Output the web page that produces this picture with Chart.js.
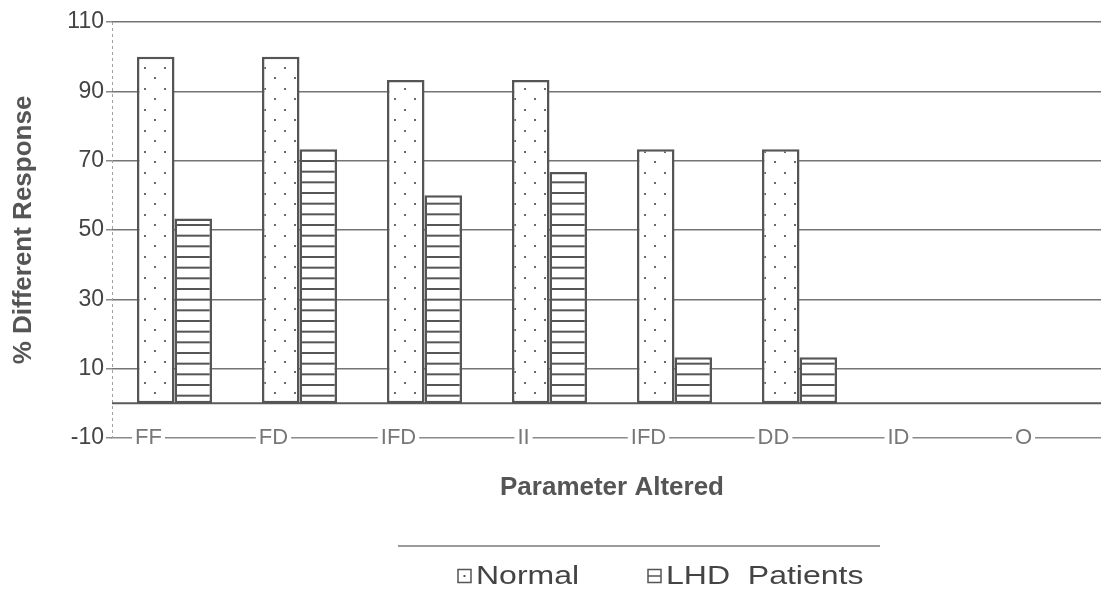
<!DOCTYPE html>
<html><head><meta charset="utf-8">
<script src="https://cdn.jsdelivr.net/npm/chart.js@4.4.1/dist/chart.umd.min.js"></script>
<style>
html,body{margin:0;padding:0;background:#fff;overflow:hidden;width:1101px;height:598px;}
#wrap{width:1114px;height:598px;}
canvas{display:block;}
</style></head><body>
<div id="wrap"><canvas id="c" width="1114" height="598"></canvas></div>
<script>
const categories = ['FF','FD','IFD','II','IFD','DD','ID','O'];
const normalValues = [100,100,93.3,93.3,73.3,73.3,0,0];
const lhdValues = [53.3,73.3,60,66.7,13.3,13.3,0,0];
const seriesNames = ['Normal','LHD  Patients'];
const yTickValues = [-10,10,30,50,70,90,110];
const yTitle = '% Different Response';
const xTitle = 'Parameter Altered';

const FONT = '"Liberation Sans", Arial, sans-serif';

function dotPattern(){
  const c=document.createElement('canvas'); c.width=20; c.height=21;
  const g=c.getContext('2d');
  g.fillStyle='#ffffff'; g.fillRect(0,0,20,21);
  g.fillStyle='#6a6a6a';
  g.fillRect(4,4,2,2); g.fillRect(14,14,2,2);
  return g.createPattern(c,'repeat');
}
function linePattern(){
  const c=document.createElement('canvas'); c.width=8; c.height=32;
  const g=c.getContext('2d');
  g.fillStyle='#ffffff'; g.fillRect(0,0,8,32);
  g.fillStyle='#555555';
  g.fillRect(0,0,8,2); g.fillRect(0,10.67,8,2); g.fillRect(0,21.33,8,2);
  return g.createPattern(c,'repeat');
}

const axisLines = {
  id:'axisLines',
  beforeDatasetsDraw(chart){
    const {ctx, chartArea, scales:{y}} = chart;
    const py = y.getPixelForValue(0);
    ctx.save();
    ctx.strokeStyle='#a0a0a0'; ctx.lineWidth=1; ctx.setLineDash([3,3]);
    ctx.beginPath(); ctx.moveTo(chartArea.left+0.5, chartArea.top); ctx.lineTo(chartArea.left+0.5, chartArea.bottom); ctx.stroke();
    ctx.setLineDash([]);
    ctx.strokeStyle='#5a5a5a'; ctx.lineWidth=2;
    ctx.beginPath(); ctx.moveTo(chartArea.left, py); ctx.lineTo(chartArea.right, py); ctx.stroke();
    ctx.restore();
  }
};

const customLegend = {
  id:'customLegend',
  afterDraw(chart){
    const ctx = chart.ctx;
    const ds = chart.data.datasets;
    ctx.save();
    ctx.strokeStyle='#7a7a7a'; ctx.lineWidth=1.5;
    ctx.beginPath(); ctx.moveTo(398,546); ctx.lineTo(880,546); ctx.stroke();
    const boxX = [458, 648];
    const cy = 576;
    ds.forEach((d,i)=>{
      const bx = boxX[i], s = 13;
      ctx.fillStyle='#fff';
      ctx.fillRect(bx, cy-s/2, s, s);
      ctx.strokeStyle='#555'; ctx.lineWidth=1.5;
      ctx.strokeRect(bx, cy-s/2, s, s);
      ctx.fillStyle='#555';
      if(i===0){ ctx.fillRect(bx+s/2-1, cy-1, 2, 2); }
      else { ctx.fillRect(bx, cy-0.75, s, 1.5); }
      ctx.save();
      ctx.translate(bx+s+5, cy);
      ctx.scale(1.28,1);
      ctx.font = '25px '+FONT;
      ctx.fillStyle='#444';
      ctx.textBaseline='middle'; ctx.textAlign='left';
      ctx.fillText(d.label, 0, 1);
      ctx.restore();
    });
    ctx.restore();
  }
};

new Chart(document.getElementById('c'), {
  type:'bar',
  data:{
    labels: categories,
    datasets:[
      {label: seriesNames[0], data: normalValues, backgroundColor: dotPattern(), borderColor:'#555', borderWidth:2.5, borderSkipped:false},
      {label: seriesNames[1], data: lhdValues, backgroundColor: linePattern(), borderColor:'#555', borderWidth:2.5, borderSkipped:false}
    ]
  },
  options:{
    responsive:false,
    animation:false,
    events:[],
    layout:{padding:{top:22,bottom:80,left:0,right:2}},
    datasets:{bar:{categoryPercentage:0.6, barPercentage:1.0}},
    plugins:{legend:{display:false}, tooltip:{enabled:false}},
    scales:{
      x:{
        grid:{display:false, drawTicks:false},
        border:{display:true, color:'#8a8a8a', width:1.5},
        ticks:{
          mirror:true,
          font:{family:FONT, size:22}, color:'#777',
          padding:-13, labelOffset:-26, maxRotation:0, autoSkip:false,
          showLabelBackdrop:true, backdropColor:'#ffffff',
          backdropPadding:{left:3,right:3,top:0,bottom:0}
        },
        title:{display:true, text:xTitle, color:'#555', font:{family:FONT, size:26, weight:'bold'}, padding:{top:0,bottom:15}},
        afterFit(s){ s.height = 80; }
      },
      y:{
        min:-10, max:110,
        afterBuildTicks(s){ s.ticks = yTickValues.map(v=>({value:v})); },
        grid:{
          color:(c)=> (c.tick && c.tick.value===-10) ? 'rgba(0,0,0,0)' : '#747474',
          tickColor:'#8a8a8a',
          lineWidth:1.5, tickLength:6
        },
        border:{display:false},
        ticks:{font:{family:FONT, size:23}, color:'#444', padding:2},
        title:{display:true, text:yTitle, color:'#555', font:{family:FONT, size:26, weight:'bold'}, padding:{top:8,bottom:20}},
        afterFit(s){ s.width = 112; }
      }
    }
  },
  plugins:[axisLines, customLegend]
});
</script>
</body></html>
